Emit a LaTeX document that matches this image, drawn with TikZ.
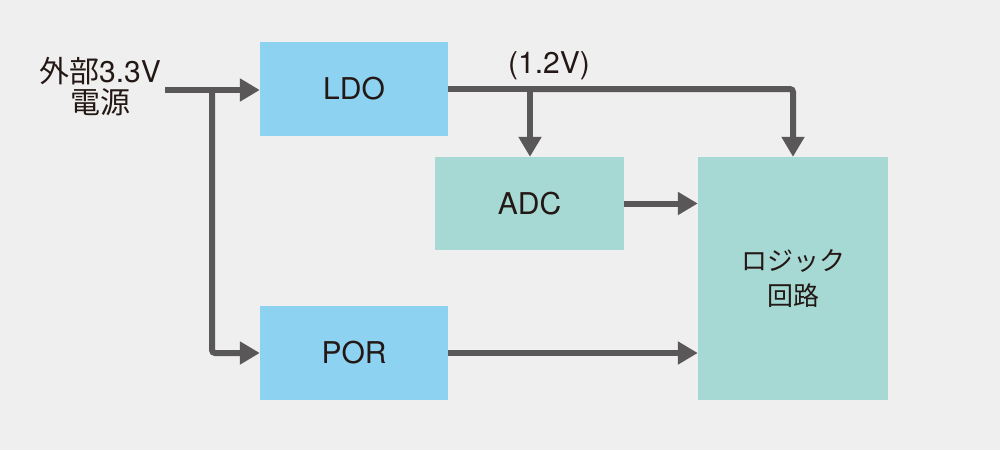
\documentclass[tikz,border=0pt]{standalone}
\usepackage{fontspec}
\setmainfont{TeX Gyre Heros}
\newfontfamily\jp{Noto Sans CJK JP}
\usetikzlibrary{arrows.meta}
\definecolor{bg}{HTML}{EFEFEF}
\definecolor{lblue}{HTML}{8DD2F0}
\definecolor{lteal}{HTML}{A6D9D4}
\definecolor{wire}{HTML}{595757}
\definecolor{txt}{HTML}{231815}
\tikzset{
  blk/.style={draw=none, inner sep=0pt, text=txt, font=\fontsize{30}{34}\selectfont},
  bluebox/.style={blk, fill=lblue, minimum width=188pt, minimum height=94pt},
  tealbox/.style={blk, fill=lteal},
  wirel/.style={draw=wire, line width=6pt, rounded corners=3pt},
  arr/.style={wirel, -{Triangle[length=20pt,width=22pt]}},
  lbl/.style={text=txt, inner sep=0pt, align=center}
}
\begin{document}
\begin{tikzpicture}[x=1pt,y=-1pt]
\fill[bg] (0,0) rectangle (1000,450);
\useasboundingbox (0,0) rectangle (1000,450);
\node[bluebox] (ldo) at (354,89) {LDO};
\node[tealbox, minimum width=189pt, minimum height=93pt] (adc) at (529.5,203.5) {ADC};
\node[bluebox] (por) at (354,353) {POR};
\node[tealbox, minimum width=190pt, minimum height=243pt, align=center, font=\jp\fontsize{26}{35}\selectfont] (logic) at (793,278.5) {ロジック\\回路};
\node[lbl, font=\fontsize{30}{31}\selectfont] (src) at (100,87) {{\jp 外部}3.3V\\{\jp 電源}};
\node[lbl, font=\fontsize{30}{31}\selectfont] (v12) at (549,66) {(1.2V)};
\coordinate (s) at (165,90);
\coordinate (j1) at (212,90);
\coordinate (j2) at (530,89);
\draw[arr] (s) -- (ldo.west |- s);
\draw[arr] (j1) |- (por.west);
\draw[wirel] (ldo.east |- j2) -- (j2);
\draw[arr] (j2) -- (j2 |- adc.north);
\draw[arr] (j2) -| (logic.north);
\draw[arr] (adc.east) -- (logic.west |- adc.east);
\draw[arr] (por.east) -- (logic.west |- por.east);
\end{tikzpicture}
\end{document}
